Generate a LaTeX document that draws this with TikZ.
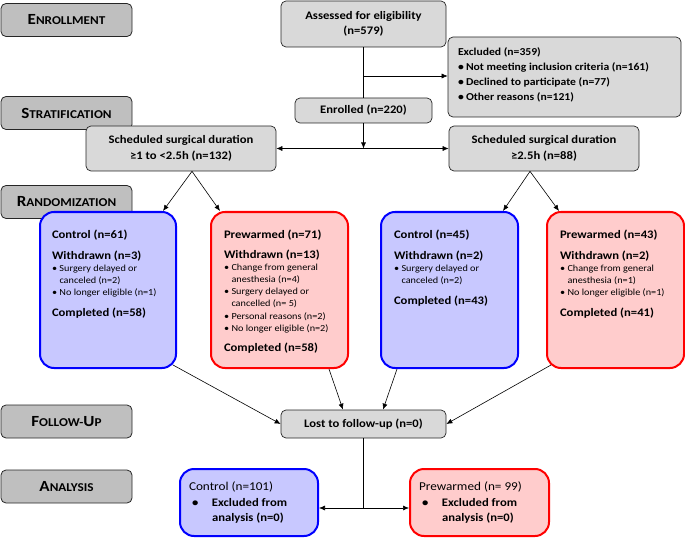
\documentclass[tikz,border=0pt]{standalone}
\usepackage{fontspec}
\setmainfont{Carlito}[FakeStretch=1.1]
\usetikzlibrary{arrows.meta}
\definecolor{lgray}{RGB}{217,217,217}
\definecolor{dgray}{RGB}{191,191,191}
\definecolor{cfill}{RGB}{200,200,255}
\definecolor{pfill}{RGB}{255,204,204}
\newcommand{\phs}[2]{{\fontsize{15.5}{17}\selectfont #1}{\fontsize{12}{14}\selectfont #2}}
\newcommand{\inbox}[5]{\begin{minipage}[c][#2][t]{#1}\raggedright\leftskip=#4\relax\rule{0pt}{#3}#5\end{minipage}}
\newcommand{\hd}[1]{{\fontsize{11.5}{13}\selectfont\bfseries #1\par}}
\newcommand{\bi}[1]{{\fontsize{9.3}{12.2}\selectfont\hangindent=7.5pt\hangafter=1\noindent\makebox[7.5pt][l]{\textbullet}#1\par}}
\newcommand{\xb}[1]{{\fontsize{10.6}{15}\selectfont\bfseries\hangindent=8pt\hangafter=1\noindent\makebox[8pt][l]{\textbullet}#1\par}}
\tikzset{
  phase/.style={draw=black!85, fill=dgray, rounded corners=5pt, minimum width=131pt, minimum height=33pt, inner sep=0pt, line width=0.8pt, font=\bfseries},
  gbox/.style={draw=black!85, fill=lgray, rounded corners=5pt, align=center, inner sep=0pt, line width=0.7pt, font=\fontsize{11.5}{15.5}\selectfont\bfseries},
  cbox/.style={draw=blue, fill=cfill, line width=2pt, rounded corners=14pt, inner sep=0pt},
  pbox/.style={draw=red, fill=pfill, line width=2pt, rounded corners=14pt, inner sep=0pt},
  arr/.style={-{Latex[length=6pt,width=5pt]}, line width=0.6pt},
  arrb/.style={{Latex[length=6pt,width=5pt]}-{Latex[length=6pt,width=5pt]}, line width=0.6pt},
  ln/.style={line width=0.6pt}
}
\begin{document}
\begin{tikzpicture}[x=1pt,y=-1pt]
\useasboundingbox (0,0) rectangle (685,540);
% phase labels
\node[phase] (enr) at (66.5,20) {\phs{E}{NROLLMENT}};
\node[phase] (str) at (66.5,113) {\phs{S}{TRATIFICATION}};
\node[phase] (ran) at (66.5,202) {\phs{R}{ANDOMIZATION}};
\node[phase] (fol) at (66.5,421.5) {\phs{F}{OLLOW-}\phs{U}{P}};
\node[phase] (ana) at (66.5,486.5) {\phs{A}{NALYSIS}};
% enrollment
\node[gbox, minimum width=165pt, minimum height=46pt] (ass) at (363.5,24) {Assessed for eligibility\\(n=579)};
\node[gbox, align=left] (exc) at (564.5,77) {\inbox{233pt}{80pt}{18.5pt}{10pt}{%
  {\fontsize{10.6}{15}\selectfont\bfseries Excluded (n=359)\par}
  \xb{Not meeting inclusion criteria (n=161)}
  \xb{Declined to participate (n=77)}
  \xb{Other reasons (n=121)}}};
\node[gbox, minimum width=137pt, minimum height=25pt] (enl) at (363.5,110.5) {Enrolled (n=220)};
% stratification
\node[gbox, minimum width=190pt, minimum height=45pt] (s1) at (181,148.5) {Scheduled surgical duration\\≥1 to <2.5h (n=132)};
\node[gbox, minimum width=190pt, minimum height=45pt] (s2) at (544,148.5) {Scheduled surgical duration\\≥2.5h (n=88)};
% groups
\node[cbox] (c1) at (108,290) {\inbox{136pt}{156pt}{26pt}{12pt}{%
  \hd{Control (n=61)}\vspace{8pt}
  \hd{Withdrawn (n=3)}
  \bi{Surgery delayed or\newline canceled (n=2)}
  \bi{No longer eligible (n=1)}\vspace{8pt}
  \hd{Completed (n=58)}}};
\node[pbox] (p1) at (279.5,290) {\inbox{137pt}{156pt}{26pt}{13pt}{%
  \hd{Prewarmed (n=71)}\vspace{7pt}
  \hd{Withdrawn (n=13)}
  \bi{Change from general\newline anesthesia (n=4)}
  \bi{Surgery delayed or\newline cancelled (n=~5)}
  \bi{Personal reasons (n=2)}
  \bi{No longer eligible (n=2)}\vspace{7pt}
  \hd{Completed (n=58)}}};
\node[cbox] (c2) at (449.5,290) {\inbox{137pt}{156pt}{26pt}{13pt}{%
  \hd{Control (n=45)}\vspace{8pt}
  \hd{Withdrawn (n=2)}
  \bi{Surgery delayed or\newline canceled (n=2)}\vspace{8pt}
  \hd{Completed (n=43)}}};
\node[pbox] (p2) at (615.5,290) {\inbox{137pt}{156pt}{26pt}{13pt}{%
  \hd{Prewarmed (n=43)}\vspace{8pt}
  \hd{Withdrawn (n=2)}
  \bi{Change from general\newline anesthesia (n=1)}
  \bi{No longer eligible (n=1)}\vspace{8pt}
  \hd{Completed (n=41)}}};
% follow-up
\node[gbox, minimum width=165pt, minimum height=28pt] (lost) at (363.5,424) {Lost to follow-up (n=0)};
% analysis
\node[cbox] (c101) at (249,502.5) {\inbox{138pt}{67pt}{21.5pt}{9pt}{%
  {\fontsize{12}{15.5}\selectfont Control (n=101)\par}
  {\fontsize{11.5}{15.5}\selectfont\bfseries\hangindent=23pt\hangafter=1\noindent\makebox[23pt][l]{\hspace{3pt}\textbullet}Excluded from\newline analysis (n=0)\par}}};
\node[pbox] (p99) at (479.5,502.5) {\inbox{139pt}{67pt}{21.5pt}{9pt}{%
  {\fontsize{12}{15.5}\selectfont Prewarmed (n=~99)\par}
  {\fontsize{11.5}{15.5}\selectfont\bfseries\hangindent=23pt\hangafter=1\noindent\makebox[23pt][l]{\hspace{3pt}\textbullet}Excluded from\newline analysis (n=0)\par}}};
% connectors
\coordinate (b1) at (363.5,76);
\coordinate (sp) at (363.5,148.5);
\coordinate (sp2) at (363.5,508);
\draw[ln] (ass.south) -- (enl.north);
\draw[arr] (b1) -- (exc.west |- b1);
\draw[arr] (enl.south) -- (sp);
\draw[arrb] (s1.east) -- (s2.west);
\draw[arr] ([xshift=11pt]s1.south) -- ([xshift=55pt]c1.north);
\draw[arr] ([xshift=11pt]s1.south) -- ([xshift=-59.5pt]p1.north);
\draw[arr] ([xshift=-14pt]s2.south) -- ([xshift=53.5pt]c2.north);
\draw[arr] ([xshift=-14pt]s2.south) -- ([xshift=-56.5pt]p2.north);
\draw[arr] ([xshift=-4pt,yshift=4pt]c1.south east) -- (lost.west);
\draw[arr] ([xshift=49.5pt]p1.south) -- ([xshift=-20.5pt]lost.north);
\draw[arr] ([xshift=-52.5pt]c2.south) -- ([xshift=19.5pt]lost.north);
\draw[arr] ([xshift=5pt,yshift=4pt]p2.south west) -- (lost.east);
\draw[ln] (lost.south) -- (sp2);
\draw[arr] (sp2) -- (c101.east |- sp2);
\draw[arr] (sp2) -- (p99.west |- sp2);
\end{tikzpicture}
\end{document}
